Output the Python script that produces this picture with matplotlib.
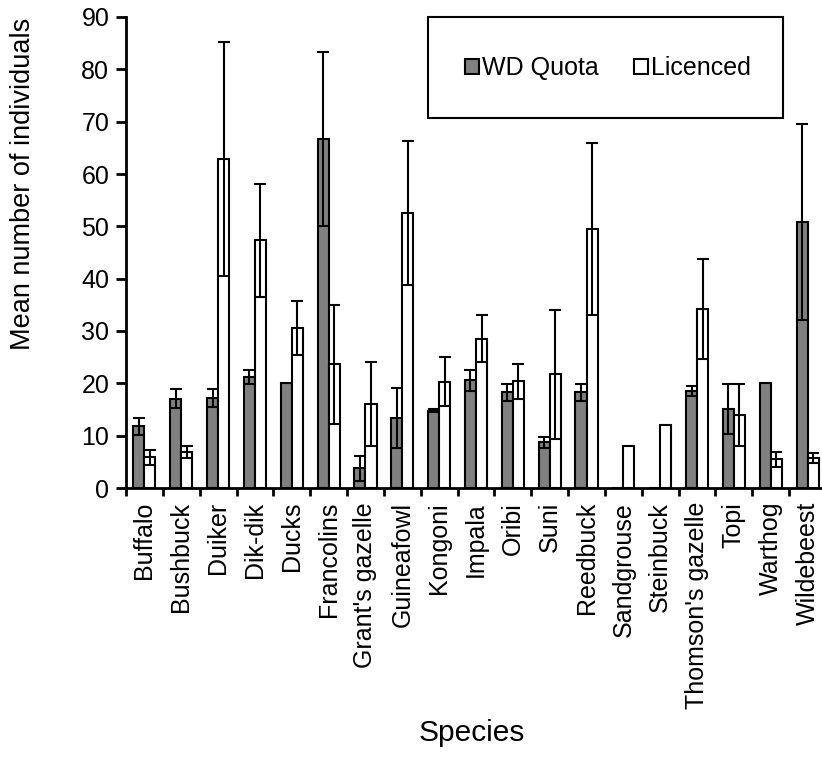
import numpy as np
import matplotlib
matplotlib.use("Agg")
from matplotlib import pyplot as plt
from matplotlib.patches import Rectangle, Patch

plt.rcParams['font.family'] = ['Liberation Sans', 'DejaVu Sans']

species = ["Buffalo", "Bushbuck", "Duiker", "Dik-dik", "Ducks", "Francolins",
           "Grant's gazelle", "Guineafowl", "Kongoni", "Impala", "Oribi", "Suni",
           "Reedbuck", "Sandgrouse", "Steinbuck", "Thomson's gazelle", "Topi",
           "Warthog", "Wildebeest"]
wd_quota = [11.8, 17.1, 17.2, 21.2, 20.0, 66.7, 3.8, 13.4, 14.8, 20.6, 18.3, 8.7,
            18.3, 0, 0, 18.5, 15.1, 20.0, 50.8]
wd_err = [1.6, 1.9, 1.8, 1.4, 0, 16.6, 2.4, 5.8, 0.3, 2.0, 1.6, 1.0,
          1.6, 0, 0, 1.0, 4.8, 0, 18.7]
licenced = [5.85, 6.9, 62.9, 47.3, 30.6, 23.6, 16.0, 52.5, 20.3, 28.5, 20.4, 21.7,
            49.5, 8.1, 12.1, 34.2, 14.0, 5.5, 5.7]
lic_err = [1.5, 1.2, 22.3, 10.8, 5.1, 11.3, 8.0, 13.8, 4.7, 4.5, 3.3, 12.4,
           16.4, 0, 0, 9.6, 5.9, 1.4, 1.0]

W, H = 822, 760
fig = plt.figure(figsize=(W / 100, H / 100), dpi=100)
ax = fig.add_axes([126 / W, 272 / H, 700 / W, 471 / H])

x = np.arange(len(species))
bw = 0.3
ax.bar(x - bw / 2, wd_quota, bw, color='#808080', edgecolor='black', linewidth=1.5, zorder=2)
ax.bar(x + bw / 2, licenced, bw, color='white', edgecolor='black', linewidth=1.5, zorder=2)


def draw_err(xs, ys, es):
    # skip zero errors so no stray caps sit on the bar tops
    xs = np.asarray(xs); ys = np.asarray(ys); es = np.asarray(es)
    m = es > 0
    ax.errorbar(xs[m], ys[m], yerr=es[m], fmt='none', ecolor='black',
                elinewidth=1.5, capsize=4.5, capthick=1.5, zorder=3)


draw_err(x - bw / 2, wd_quota, wd_err)
draw_err(x + bw / 2, licenced, lic_err)

ax.set_xlim(-0.5, len(species) - 0.5)
ax.set_ylim(0, 90)
ax.set_yticks(np.arange(0, 91, 10))
ax.set_xticks(np.arange(len(species) + 1) - 0.5)
ax.set_xticklabels([])
ax.set_xticks(x, minor=True)
ax.set_xticklabels(species, minor=True, rotation=90, fontsize=18)
ax.tick_params(axis='x', which='minor', length=0, pad=10)
ax.tick_params(axis='x', which='major', length=6, width=2, direction='out')
ax.tick_params(axis='y', length=7, width=2, direction='out', labelsize=18, pad=5)

for s in ['top', 'right']:
    ax.spines[s].set_visible(False)
for s in ['left', 'bottom']:
    ax.spines[s].set_linewidth(2)

ax.set_ylabel("Mean number of individuals", fontsize=19.5)
ax.yaxis.set_label_coords(-0.128, 0.645)
fig.text(472 / W, 1 - 733 / H, "Species", fontsize=21.5, ha='center', va='center')

# legend frame and entries
fig.patches.append(Rectangle((428 / W, 1 - 118 / H), 355 / W, 101 / H,
                             transform=fig.transFigure, fill=False,
                             edgecolor='black', linewidth=1.5))
handles = [Patch(facecolor='#808080', edgecolor='black', linewidth=1.5, label='WD Quota'),
           Patch(facecolor='white', edgecolor='black', linewidth=1.5, label='Licenced')]
fig.legend(handles=handles, loc='center', bbox_to_anchor=(608 / W, 1 - 68 / H),
           ncol=2, frameon=False, fontsize=18, handlelength=0.55, handleheight=0.55,
           handletextpad=0.12, columnspacing=1.4)

fig.savefig("out.png", dpi=100)
